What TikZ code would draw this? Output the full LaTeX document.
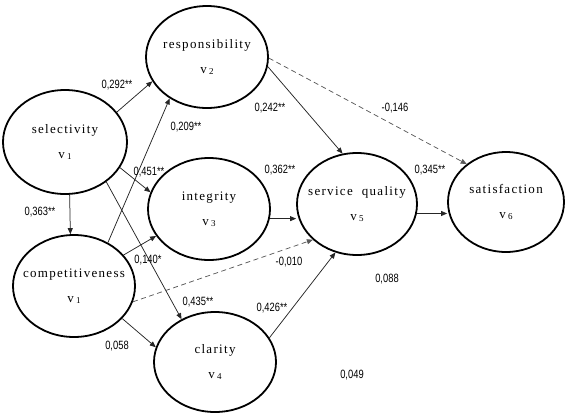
\documentclass[tikz,border=0pt]{standalone}
\usepackage{fontspec}
\setmainfont{Liberation Serif}
\newfontfamily\latfont[LetterSpace=10]{Liberation Serif}
\newfontfamily\numfont[FakeStretch=0.78]{Liberation Sans}
\usetikzlibrary{shapes.geometric,arrows.meta}
\newcommand{\vsub}[1]{v\,\raisebox{-0.8pt}{\fontsize{9}{9}\selectfont #1}}
\newcommand{\lattext}[2]{\makebox[0pt]{#1}\\[10pt]\makebox[0pt]{\vsub{#2}}}
\begin{document}
\begin{tikzpicture}[x=1pt,y=-1pt,
  lat/.style={ellipse,draw=black,line width=1.8pt,inner sep=0pt,align=center,
    font=\latfont\fontsize{13}{15}\selectfont},
  path/.style={draw=black!85,line width=0.75pt,-{Triangle[length=6pt,width=5pt]}},
  dpath/.style={path,draw=black!65,dash pattern=on 5pt off 3.5pt},
  coef/.style={font=\numfont\fontsize{12}{13}\selectfont,inner sep=1pt}]
\useasboundingbox (0,0) rectangle (565,413);
\node[lat,minimum width=124pt,minimum height=104pt] (sel) at (65,142) {\lattext{selectivity}{1}};
\node[lat,minimum width=122pt,minimum height=102pt] (resp) at (207,57) {\lattext{responsibility}{2}};
\node[lat,minimum width=122pt,minimum height=102pt] (integ) at (209,209) {\lattext{integrity}{3}};
\node[lat,minimum width=122pt,minimum height=102pt] (comp) at (74,286) {\lattext{competitiveness}{1}};
\node[lat,minimum width=122pt,minimum height=100pt] (clar) at (215,362) {\lattext{clarity}{4}};
\node[lat,minimum width=120pt,minimum height=102pt] (sq) at (357,204) {\lattext{service\ \ quality}{5}};
\node[lat,minimum width=116pt,minimum height=100pt] (sat) at (506,202) {\lattext{satisfaction}{6}};

\draw[path] (sel.30) -- (resp.204);
\draw[path] (comp.52) -- (resp.228);
\draw[path] (sel.-25) -- (integ.164);
\draw[path] (sel.-44) -- (clar.128);
\draw[path] (sel.-85) -- (comp.94);
\draw[path] (comp.32) -- (integ.207);
\draw[path] (comp.-34) -- (clar.166);
\draw[dpath] (comp.-15) -- (sq.219);
\draw[path] (resp.-9) -- (sq.106);
\draw[dpath] (resp.-1) -- (sat.136);
\draw[path] (integ.-9) -- (integ.-9 -| sq.west);
\draw[path] (clar.24) -- (sq.246);
\draw[path] (sq.-9) -- (sq.-9 -| sat.west);

\node[coef] (c1) at (117,85) {0,292**};
\node[coef] (c2) at (186,127) {0,209**};
\node[coef] (c3) at (149,172) {0,451**};
\node[coef] (c4) at (198,302) {0,435**};
\node[coef] (c5) at (40,212) {0,363**};
\node[coef] (c6) at (148,260) {0,140*};
\node[coef] (c7) at (117,346) {0,058};
\node[coef] (c8) at (289,262) {-0,010};
\node[coef] (c9) at (270,108) {0,242**};
\node[coef] (c10) at (395,108) {-0,146};
\node[coef] (c11) at (280,170) {0,362**};
\node[coef] (c12) at (272,308) {0,426**};
\node[coef] (c13) at (430,170) {0,345**};
\node[coef] (c14) at (387,279) {0,088};
\node[coef] (c15) at (352,375) {0,049};
\end{tikzpicture}
\end{document}
